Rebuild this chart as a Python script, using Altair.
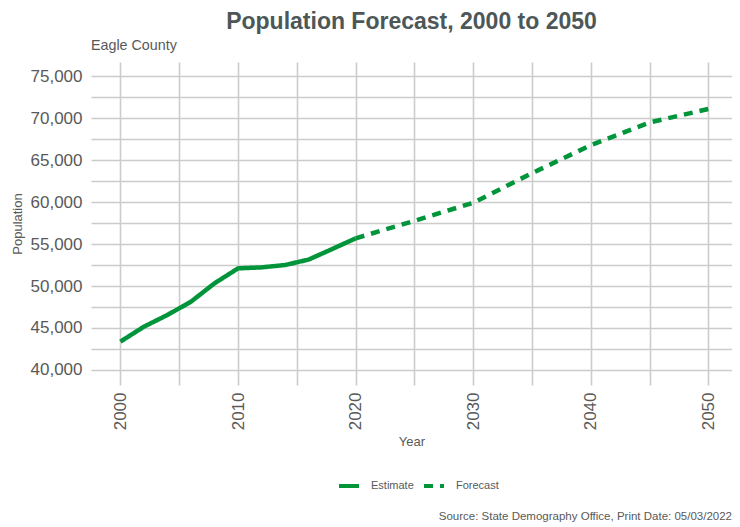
import altair as alt
import pandas as pd

# ---- data ----
est_years = [2000, 2002, 2004, 2006, 2008, 2010, 2012, 2014, 2016, 2018, 2020]
est_pop = [43370, 45150, 46550, 48130, 50320, 52100, 52220, 52500, 53150, 54400, 55680]
fc_years = [2020, 2025, 2030, 2035, 2040, 2045, 2050]
fc_pop = [55680, 57770, 59920, 63450, 66790, 69500, 71100]
series_names = ["Estimate", "Forecast"]

title_text = "Population Forecast, 2000 to 2050"
subtitle_text = ["Eagle County"]
caption_text = ["Source: State Demography Office, Print Date: 05/03/2022"]

y_grid_values = list(range(40000, 75001, 2500))
x_grid_values = list(range(2000, 2051, 5))

df = pd.concat([
    pd.DataFrame({"year": est_years, "pop": est_pop, "type": series_names[0]}),
    pd.DataFrame({"year": fc_years, "pop": fc_pop, "type": series_names[1]}),
], ignore_index=True)

GREEN = "#00953a"
GRID = "#cccccc"
TXT = "#595959"
FONT = "Liberation Sans"

W, H = 641, 323

lines = alt.Chart(df).mark_line(strokeWidth=4.5, color=GREEN, clip=True).encode(
    x=alt.X(
        "year:Q",
        scale=alt.Scale(domain=[1997.5, 2052.0], nice=False, zero=False),
        axis=alt.Axis(
            values=x_grid_values,
            labelExpr="datum.value % 10 == 0 ? '' + datum.value : ''",
            labelAngle=-90,
            labelFontSize=17,
            labelColor=TXT,
            labelPadding=7,
            labelOverlap=False,
            labelFlush=False,
            title="Year",
            titleFontSize=13,
            titleFontWeight="normal",
            titleColor=TXT,
            titlePadding=6,
            grid=True,
            gridColor=GRID,
            gridWidth=1.6,
            domain=False,
            ticks=False,
        ),
    ),
    y=alt.Y(
        "pop:Q",
        scale=alt.Scale(domain=[38200, 76700], nice=False, zero=False),
        axis=alt.Axis(
            values=y_grid_values,
            labelExpr="datum.value % 5000 == 0 ? format(datum.value, ',') : ''",
            labelFontSize=17,
            labelColor=TXT,
            labelPadding=9,
            labelOverlap=False,
            labelFlush=False,
            title="Population",
            titleFontSize=13,
            titleFontWeight="normal",
            titleColor=TXT,
            titlePadding=6,
            grid=True,
            gridColor=GRID,
            gridWidth=1.6,
            domain=False,
            ticks=False,
        ),
    ),
    strokeDash=alt.StrokeDash(
        "type:N",
        scale=alt.Scale(domain=series_names, range=[[1, 0], [9, 7]]),
        legend=alt.Legend(
            title=None,
            orient="none",
            legendX=246,
            legendY=412,
            direction="horizontal",
            symbolType="stroke",
            symbolSize=400,
            symbolStrokeWidth=4,
            symbolStrokeColor=GREEN,
            labelFontSize=11,
            labelColor=TXT,
            labelFont=FONT,
            labelOffset=10,
            columnPadding=2,
        ),
    ),
    detail="type:N",
)

subtitle = alt.Chart(pd.DataFrame({"t": subtitle_text})).mark_text(
    align="left", baseline="alphabetic", fontSize=14.3, color=TXT, font=FONT
).encode(x=alt.value(0), y=alt.value(-12), text="t:N")

caption = alt.Chart(pd.DataFrame({"t": caption_text})).mark_text(
    align="right", baseline="middle", fontSize=11.5, color=TXT, font=FONT
).encode(x=alt.value(W), y=alt.value(455), text="t:N")

chart = alt.layer(lines, subtitle, caption).properties(
    width=W,
    height=H,
    autosize=alt.AutoSizeParams(type="none"),
    padding={"left": 83, "top": 54, "right": 0, "bottom": 142},
    title=alt.TitleParams(
        title_text,
        anchor="middle",
        frame="group",
        fontSize=23,
        fontWeight="bold",
        color="#4d5757",
        font=FONT,
        offset=5,
    ),
).configure_view(stroke=None).configure_axis(
    labelFont=FONT, titleFont=FONT
)

chart.save("out.html", embed_options={"renderer": "svg", "actions": False})
